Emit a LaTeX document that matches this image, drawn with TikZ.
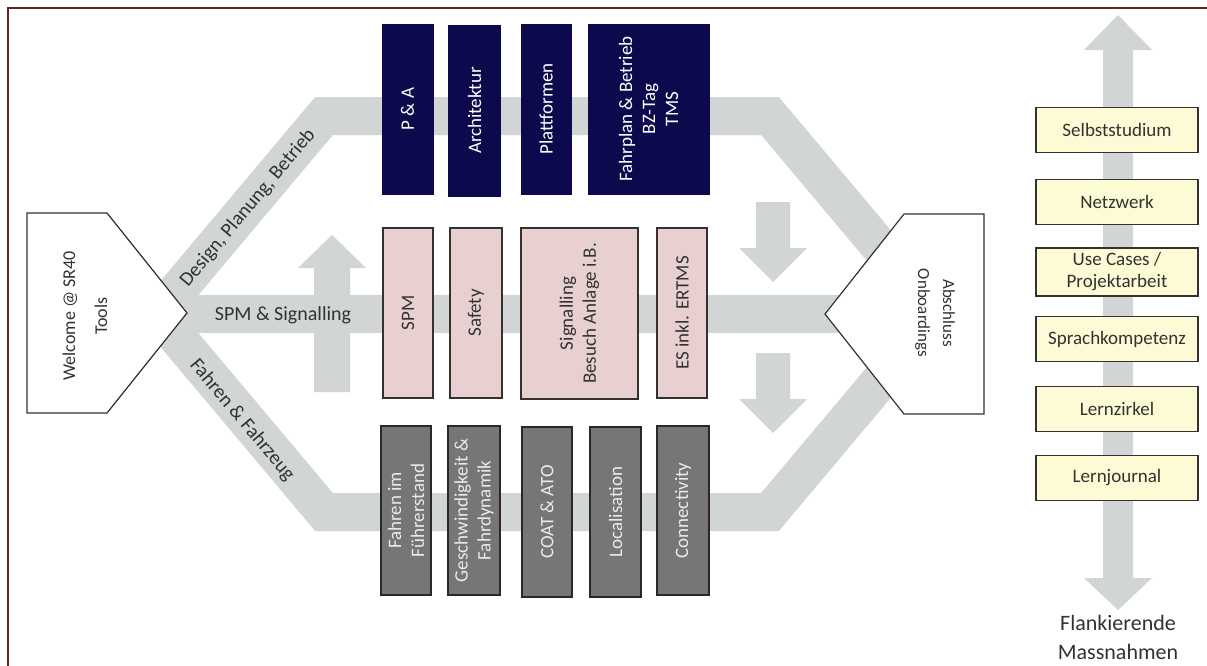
\documentclass[tikz,border=0pt]{standalone}
\usepackage{fontspec}
\setmainfont{Carlito}
\definecolor{framecol}{RGB}{95,38,38}
\definecolor{bandgray}{RGB}{210,213,213}
\definecolor{navy}{RGB}{12,10,76}
\definecolor{rose}{RGB}{232,208,208}
\definecolor{stone}{RGB}{118,118,118}
\definecolor{cream}{RGB}{253,250,214}
\definecolor{edge}{RGB}{55,48,48}
\definecolor{labeltext}{RGB}{50,50,50}
\begin{document}
\begin{tikzpicture}[x=1pt,y=-1pt,
  band/.style={draw=bandgray, line width=38pt, line join=miter},
  bigarrow/.style={fill=bandgray},
  boxtext/.style={rotate=90, align=center, inner sep=0pt, font=\fontsize{19}{23}\selectfont},
  navybox/.style={boxtext, draw=navy, fill=navy, text=white},
  rosebox/.style={boxtext, draw=edge, line width=1.2pt, fill=rose, text=labeltext},
  stonebox/.style={boxtext, draw=edge!80!black, line width=1.2pt, fill=stone, text=white!92!black},
  creambox/.style={draw=edge, line width=1.2pt, fill=cream, text=labeltext, align=center,
    minimum width=162pt, minimum height=45pt, inner sep=0pt, font=\fontsize{19}{22}\selectfont},
  bandlabel/.style={text=labeltext, font=\fontsize{20}{24}\selectfont, inner sep=0pt},
  pent/.style={draw=edge, line width=1.2pt, fill=white}
]
\useasboundingbox (0,0) rectangle (1207,665);
\fill[white] (0,0) rectangle (1207,665);
\draw[framecol, line width=1.6pt] (8,8) rectangle (1240,700);

% three learning tracks
\draw[band] (140,335) -- (324,116) -- (770,116) -- (954,335);
\draw[band] (150,314) -- (940,314);
\draw[band] (140,293) -- (324,512) -- (770,512) -- (954,293);

% flow arrows between the tracks
\fill[bigarrow] (314,392) -- (314,268) -- (298,268) -- (332,235) -- (366,268) -- (350,268) -- (350,392) -- cycle;
\fill[bigarrow] (756,202) -- (790,202) -- (790,248) -- (807,248) -- (773,282) -- (739,248) -- (756,248) -- cycle;
\fill[bigarrow] (756,353) -- (790,353) -- (790,399) -- (807,399) -- (773,433) -- (739,399) -- (756,399) -- cycle;

% upper track modules
\node[navybox, minimum width=170pt, minimum height=51pt] (pa) at (407.5,109) {P \& A};
\node[navybox, minimum width=171pt, minimum height=52pt] (arch) at (474.5,110.5) {Architektur};
\node[navybox, minimum width=170pt, minimum height=50pt] (platt) at (546,109) {Plattformen};
\node[navybox, minimum width=170pt, minimum height=121pt] (fahrplan) at (648.5,109) {Fahrplan \& Betrieb\\BZ-Tag\\TMS};

% middle track modules
\node[rosebox, minimum width=170pt, minimum height=50pt] (spm) at (408,313) {SPM};
\node[rosebox, minimum width=170pt, minimum height=52pt] (safety) at (476,313) {Safety};
\node[rosebox, minimum width=171pt, minimum height=117pt] (signalling) at (579.5,313.5) {Signalling\\Besuch Anlage i.B.};
\node[rosebox, minimum width=170pt, minimum height=50pt] (ertms) at (682,313) {ES inkl. ERTMS};

% lower track modules
\node[stonebox, minimum width=169pt, minimum height=50pt] (fuehrer) at (406,510.5) {Fahren im\\Führerstand};
\node[stonebox, minimum width=169pt, minimum height=52pt] (dynamik) at (474,510.5) {Geschwindigkeit \&\\Fahrdynamik};
\node[stonebox, minimum width=170pt, minimum height=50pt] (coat) at (547,512) {COAT \& ATO};
\node[stonebox, minimum width=170pt, minimum height=51pt] (local) at (615.5,512) {Localisation};
\node[stonebox, minimum width=169pt, minimum height=52pt] (connect) at (683,510.5) {Connectivity};

% track labels
\node[bandlabel, rotate=50] (lblup) at (248,208) {Design, Planung, Betrieb};
\node[bandlabel] (lblmid) at (283,315) {SPM \& Signalling};
\node[bandlabel, rotate=-50] (lbllow) at (242,420) {Fahren \& Fahrzeug};

% start and end of the onboarding
\draw[pent] (27,213) -- (107,213) -- (187,313) -- (107,413) -- (27,413) -- cycle;
\node[rotate=90, align=center, text=labeltext, font=\fontsize{18}{32}\selectfont] (welcome) at (85,316) {Welcome @ SR40\\Tools};
\draw[pent] (984,214) -- (904,214) -- (825,314) -- (904,414) -- (984,414) -- cycle;
\node[rotate=-90, align=center, text=labeltext, font=\fontsize{17}{25}\selectfont] (abschluss) at (935,313) {Abschluss\\Onboardings};

% accompanying measures
\fill[bigarrow] (1103,50) -- (1084,50) -- (1118,15) -- (1152,50) -- (1133,50) -- (1133,578) -- (1152,578) -- (1118,610) -- (1084,578) -- (1103,578) -- cycle;
\node[creambox] (selbst) at (1117,130) {Selbststudium};
\node[creambox] (netz) at (1117,202) {Netzwerk};
\node[creambox, minimum height=48pt] (usecases) at (1117,272) {Use Cases /\\Projektarbeit};
\node[creambox] (sprache) at (1117,339) {Sprachkompetenz};
\node[creambox] (zirkel) at (1117,409) {Lernzirkel};
\node[creambox] (journal) at (1117,478) {Lernjournal};
\node[align=center, text=labeltext, font=\fontsize{22}{29}\selectfont] (flank) at (1118,637) {Flankierende\\Massnahmen};
\end{tikzpicture}
\end{document}
